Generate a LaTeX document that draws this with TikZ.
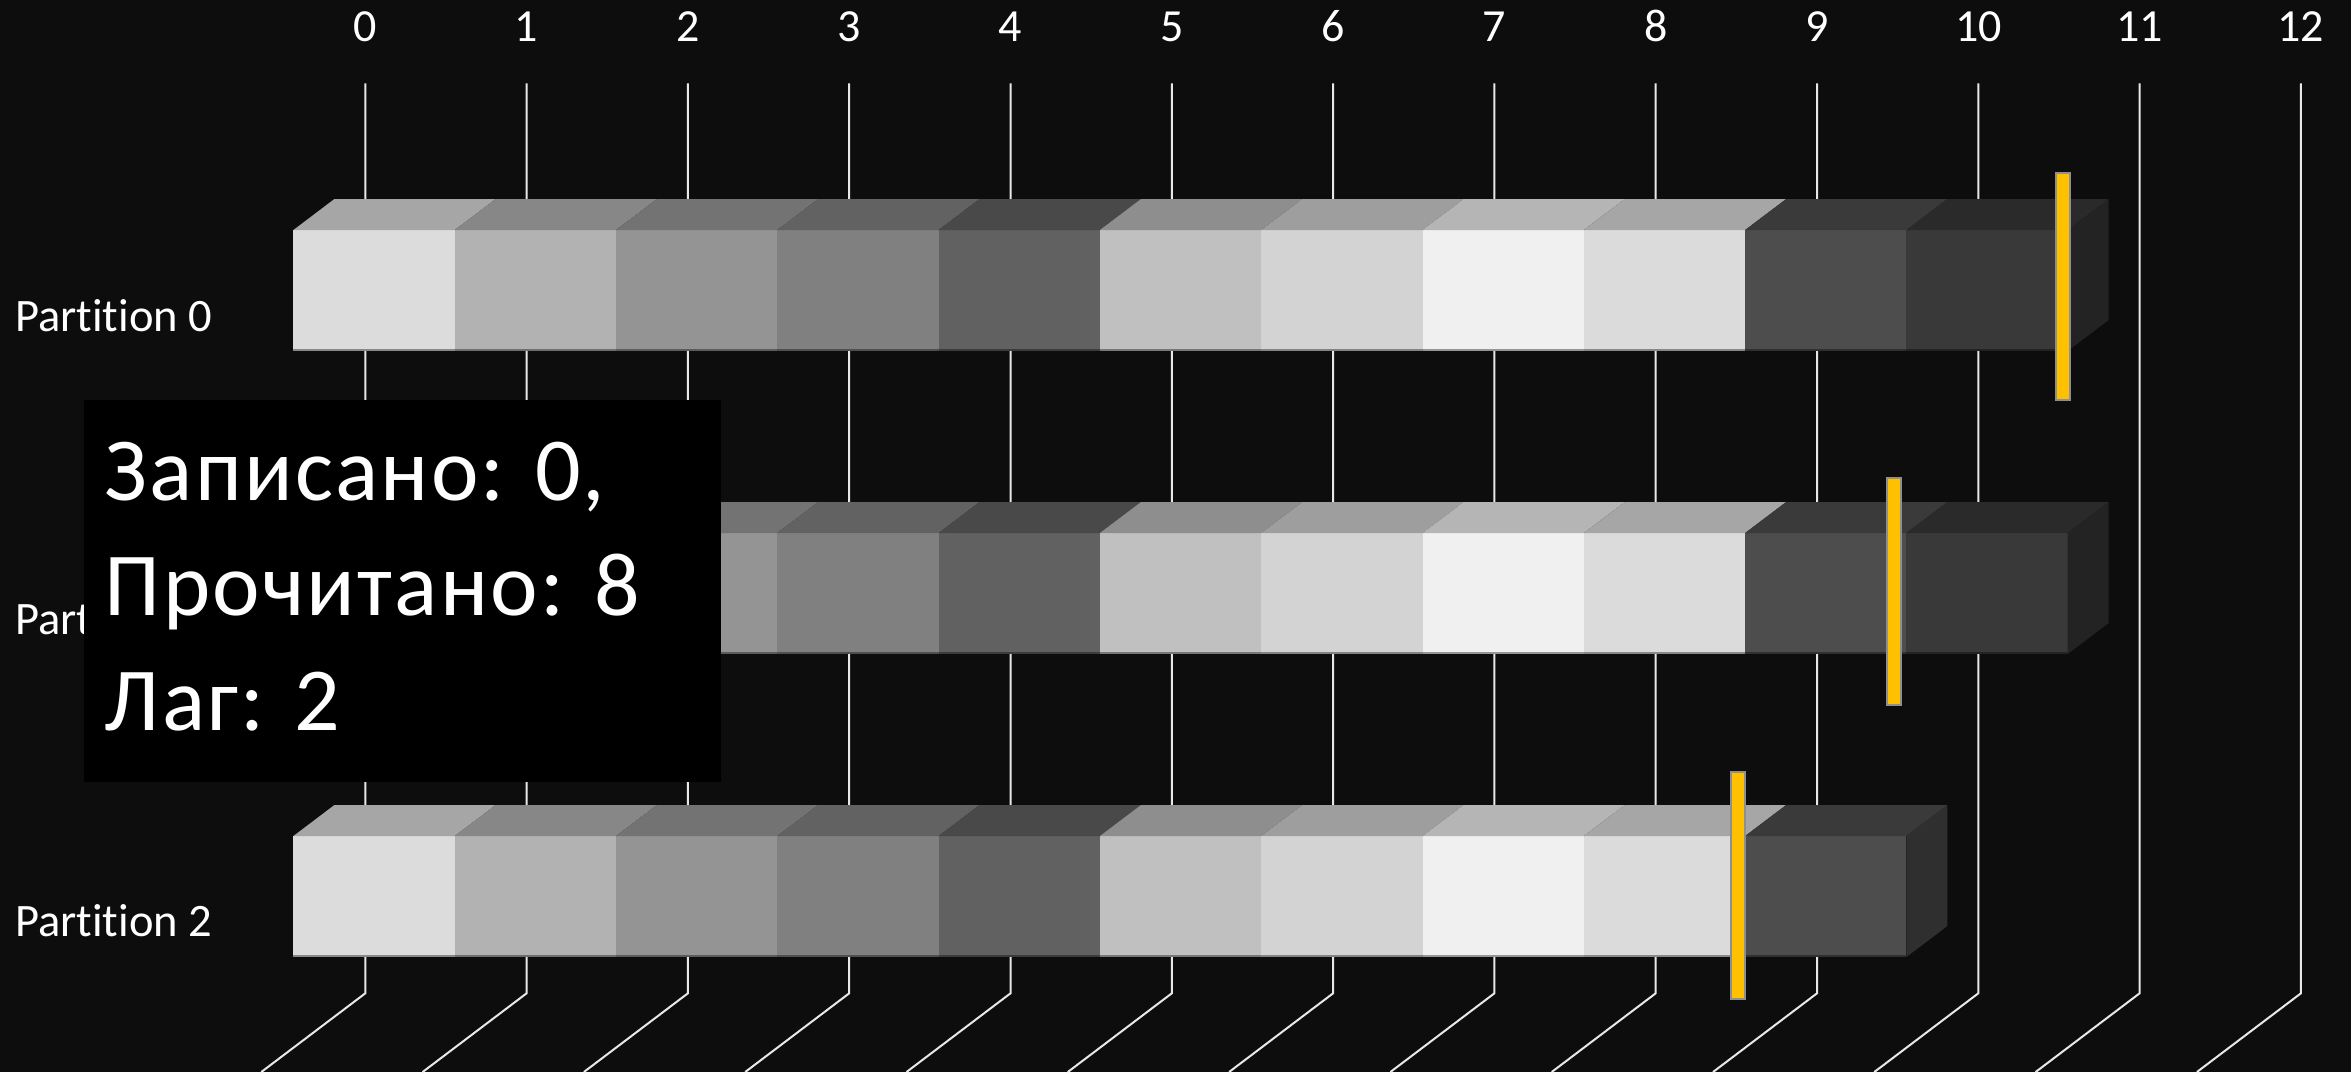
\documentclass[tikz,border=0pt]{standalone}
\usepackage{fontspec}
\setmainfont{Carlito}[Ligatures=NoCommon]
\newfontfamily\infofont{Carlito}[Ligatures=NoCommon,LetterSpace=2.5]
\definecolor{bgc}{HTML}{0D0D0D}
\definecolor{gridc}{HTML}{E8E8E8}
\definecolor{markery}{HTML}{FFC000}
\definecolor{markerg}{HTML}{8F8F8F}
\definecolor{f0}{HTML}{DCDCDC}\definecolor{t0}{HTML}{A6A6A6}
\definecolor{f1}{HTML}{B2B2B2}\definecolor{t1}{HTML}{878787}
\definecolor{f2}{HTML}{949494}\definecolor{t2}{HTML}{737373}
\definecolor{f3}{HTML}{808080}\definecolor{t3}{HTML}{626262}
\definecolor{f4}{HTML}{616161}\definecolor{t4}{HTML}{494949}
\definecolor{f5}{HTML}{C0C0C0}\definecolor{t5}{HTML}{8E8E8E}
\definecolor{f6}{HTML}{D3D3D3}\definecolor{t6}{HTML}{9E9E9E}
\definecolor{f7}{HTML}{F0F0F0}\definecolor{t7}{HTML}{B5B5B5}
\definecolor{f8}{HTML}{DBDBDB}\definecolor{t8}{HTML}{A6A6A6}
\definecolor{f9}{HTML}{4D4D4D}\definecolor{t9}{HTML}{3A3A3A}
\definecolor{f10}{HTML}{393939}\definecolor{t10}{HTML}{2A2A2A}
\definecolor{s9}{HTML}{2F2F2F}
\definecolor{s10}{HTML}{232323}
\begin{document}
\begin{tikzpicture}[x=1pt,y=-1pt,
  grid/.style={draw=gridc, line width=2pt},
  tick/.style={text=white, font=\fontsize{46}{55}\selectfont, anchor=base, inner sep=0pt},
  plabel/.style={text=white, font=\fontsize{46.5}{55}\selectfont, anchor=base west, inner sep=0pt},
  infotext/.style={text=white, font=\infofont\fontsize{90}{110}\selectfont, anchor=base west, inner sep=0pt},
  marker/.style={fill=markery, draw=markerg, line width=2pt, minimum width=14pt, minimum height=227pt, inner sep=0pt},
  infobox/.style={fill=black, minimum width=637pt, minimum height=382pt, inner sep=0pt, anchor=north west}
]
\useasboundingbox (0,0) rectangle (2351,1072);
\fill[bgc] (0,0) rectangle (2351,1072);
% axis labels and grid lines
\foreach \i in {0,...,12}{
  \pgfmathsetmacro\xx{365.3+161.3*\i}
  \node[tick] (tick\i) at (\xx,41.7) {\i};
  \draw[grid] (\xx,83.3) -- (\xx,993.3) -- (\xx-104,1072);
}
% bars
\foreach \p/\n in {0/10,1/10,2/9}{
  \pgfmathsetmacro\yt{230+303*\p}
  \foreach \i in {0,...,\n}{
    \pgfmathsetmacro\L{293.4+161.3*\i}
    \pgfmathsetmacro\R{\L+161.3}
    \fill[f\i] (\L,\yt) rectangle (\R,\yt+121);
    \draw[f\i!62!black, line width=1.5pt] (\L,\yt+120.2) -- (\R,\yt+120.2);
    \fill[t\i] (\L,\yt) -- (\R,\yt) -- (\R+41,\yt-31) -- (\L+41,\yt-31) -- cycle;
  }
  \pgfmathsetmacro\E{293.4+161.3*(\n+1)}
  \fill[s\n] (\E,\yt) -- (\E+41,\yt-31) -- (\E+41,\yt+90) -- (\E,\yt+121) -- cycle;
}
% offset markers
\node[marker] (m0) at (2063.4,286.5) {};
\node[marker] (m1) at (1894.3,591) {};
\node[marker] (m2) at (1738.3,885.3) {};
% partition labels
\node[plabel] (p0) at (15,331) {Partition 0};
\node[plabel] (p1) at (15,634) {Partition 1};
\node[plabel] (p2) at (15,936) {Partition 2};
% info box
\node[infobox] (info) at (84,400) {};
\node[infotext] (l1) at (104.6,500) {Записано: 0,};
\node[infotext] (l2) at (104.6,615) {Прочитано: 8};
\node[infotext] (l3) at (104.6,730) {Лаг: 2};
\end{tikzpicture}
\end{document}
